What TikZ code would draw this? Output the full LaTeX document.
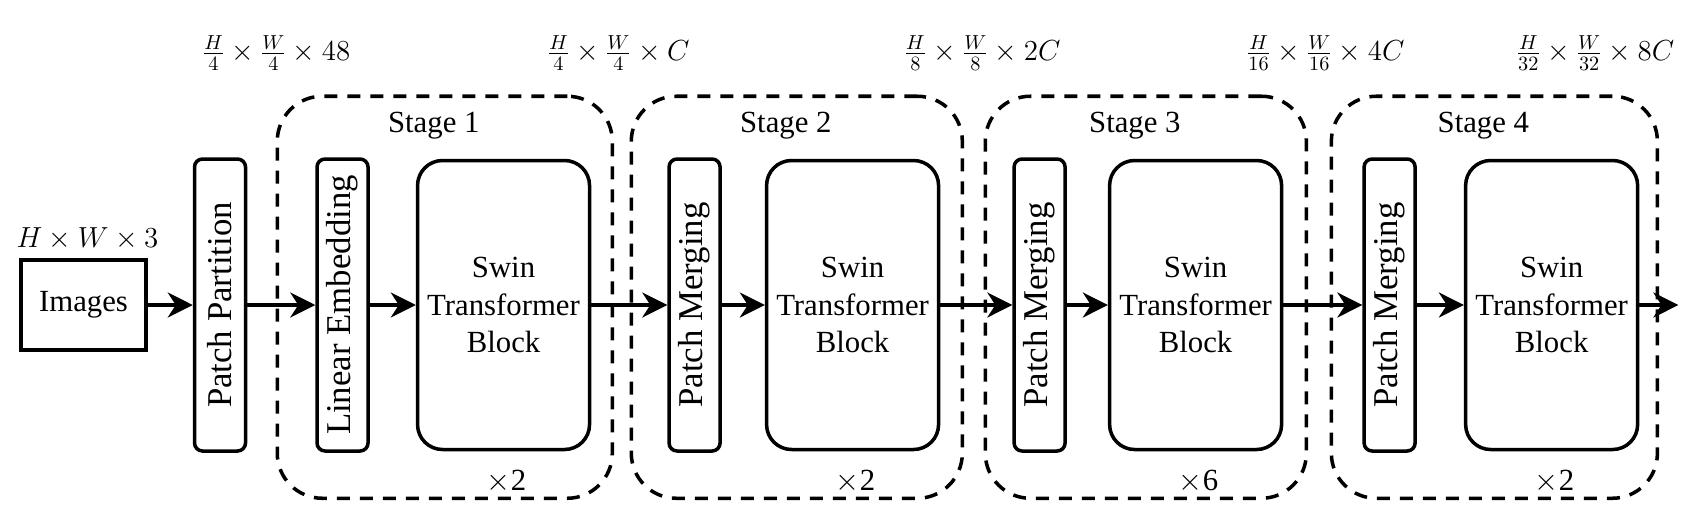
\RequirePackage{fix-cm}
\documentclass[tikz,border=0pt]{standalone}
\usepackage[no-math]{fontspec}
\setmainfont{Liberation Serif}
\usetikzlibrary{arrows.meta, positioning, calc, fit}
\tikzset{
  imgbox/.style  = {draw, rectangle, line width=2pt, inner sep=2pt,
                    minimum width=2.5cm, minimum height=1.8cm,
                    font=\fontsize{17.5}{21}\selectfont},
  slimbox/.style = {draw, rectangle, rounded corners=0.16cm, line width=2pt,
                    inner sep=1pt, minimum width=1.02cm, minimum height=5.84cm,
                    font=\fontsize{19.8}{22}\selectfont},
  swin/.style    = {draw, rectangle, rounded corners=0.5cm, line width=2pt,
                    align=center, inner sep=1pt,
                    minimum width=3.44cm, minimum height=5.78cm,
                    font=\fontsize{17.5}{21.5}\selectfont},
  stage/.style   = {draw, rectangle, rounded corners=0.9cm, line width=2pt,
                    dash pattern=on 0.26cm off 0.2cm, inner sep=0pt},
  arr/.style     = {-{Stealth[length=0.5cm, width=0.5cm, inset=0.16cm]},
                    line width=2pt},
  lbl/.style     = {font=\fontsize{17.5}{21}\selectfont, inner sep=1pt},
  dim/.style     = {font=\fontsize{16.5}{19}\selectfont, inner sep=1pt}
}

\begin{document}
\begin{tikzpicture}
  \useasboundingbox (0,0) rectangle (33.96,-10.58);

  % ── Input and patch partition ─────────────────────────────────────────────
  \node[imgbox] (Img) at (1.67,-6.1) {Images};
  \node[dim, above=0.12cm of Img, xshift=0.08cm] (ImgDim) {$H\times W\times 3$};
  \node[slimbox, right=0.9cm of Img] (PP) {\rotatebox{90}{Patch Partition}};

  % ── Main chain ────────────────────────────────────────────────────────────
  \node[slimbox, right=1.36cm of PP]    (LE)    {\rotatebox{90}{Linear Embedding}};
  \node[swin,    right=0.92cm of LE]    (Swin1) {Swin\\Transformer\\Block};
  \node[slimbox, right=1.52cm of Swin1] (PM2)   {\rotatebox{90}{Patch Merging}};
  \node[swin,    right=0.86cm of PM2]   (Swin2) {Swin\\Transformer\\Block};
  \node[slimbox, right=1.44cm of Swin2] (PM3)   {\rotatebox{90}{Patch Merging}};
  \node[swin,    right=0.82cm of PM3]   (Swin3) {Swin\\Transformer\\Block};
  \node[slimbox, right=1.58cm of Swin3] (PM4)   {\rotatebox{90}{Patch Merging}};
  \node[swin,    right=0.94cm of PM4]   (Swin4) {Swin\\Transformer\\Block};
  \coordinate[right=0.78cm of Swin4] (Out);

  % ── Stage frames ──────────────────────────────────────────────────────────
  \node[stage, fit={($(LE.north west)+(-0.76,1.22)$) ($(Swin1.south east)+(0.42,-0.94)$)}] (St1) {};
  \node[stage, fit={($(PM2.north west)+(-0.72,1.22)$) ($(Swin2.south east)+(0.44,-0.94)$)}] (St2) {};
  \node[stage, fit={($(PM3.north west)+(-0.54,1.22)$) ($(Swin3.south east)+(0.46,-0.94)$)}] (St3) {};
  \node[stage, fit={($(PM4.north west)+(-0.62,1.22)$) ($(Swin4.south east)+(0.36,-0.94)$)}] (St4) {};

  \node[lbl] (St1Lbl) at ($(St1.north)+(-0.22,-0.62)$) {Stage 1};
  \node[lbl] (St2Lbl) at ($(St2.north)+(-0.22,-0.62)$) {Stage 2};
  \node[lbl] (St3Lbl) at ($(St3.north)+(-0.22,-0.62)$) {Stage 3};
  \node[lbl] (St4Lbl) at ($(St4.north)+(-0.22,-0.62)$) {Stage 4};

  \node[lbl] (Rep1) at ($(Swin1.south)+(0.06,-0.6)$) {$\times$2};
  \node[lbl] (Rep2) at ($(Swin2.south)+(0.06,-0.6)$) {$\times$2};
  \node[lbl] (Rep3) at ($(Swin3.south)+(0.06,-0.6)$) {$\times$6};
  \node[lbl] (Rep4) at ($(Swin4.south)+(0.06,-0.6)$) {$\times$2};

  % ── Feature sizes ─────────────────────────────────────────────────────────
  \node[dim] (Dim1) at ($(PP.east)!0.5!(LE.west)+(-0.1,5.04)$)
    {$\frac{H}{4}\times\frac{W}{4}\times48$};
  \node[dim] (Dim2) at ($(Swin1.east)!0.5!(PM2.west)+(-0.22,5.04)$)
    {$\frac{H}{4}\times\frac{W}{4}\times C$};
  \node[dim] (Dim3) at ($(Swin2.east)!0.5!(PM3.west)+(0.12,5.04)$)
    {$\frac{H}{8}\times\frac{W}{8}\times2C$};
  \node[dim] (Dim4) at ($(Swin3.east)!0.5!(PM4.west)+(0.05,5.04)$)
    {$\frac{H}{16}\times\frac{W}{16}\times4C$};
  \node[dim, anchor=east] (Dim5) at ($(Out)+(-0.04,5.04)$)
    {$\frac{H}{32}\times\frac{W}{32}\times8C$};

  % ── Connections ───────────────────────────────────────────────────────────
  \draw[arr] (Img.east)   -- (PP.west);
  \draw[arr] (PP.east)    -- (LE.west);
  \draw[arr] (LE.east)    -- (Swin1.west);
  \draw[arr] (Swin1.east) -- (PM2.west);
  \draw[arr] (PM2.east)   -- (Swin2.west);
  \draw[arr] (Swin2.east) -- (PM3.west);
  \draw[arr] (PM3.east)   -- (Swin3.west);
  \draw[arr] (Swin3.east) -- (PM4.west);
  \draw[arr] (PM4.east)   -- (Swin4.west);
  \draw[arr] (Swin4.east) -- (Out);

\end{tikzpicture}
\end{document}
